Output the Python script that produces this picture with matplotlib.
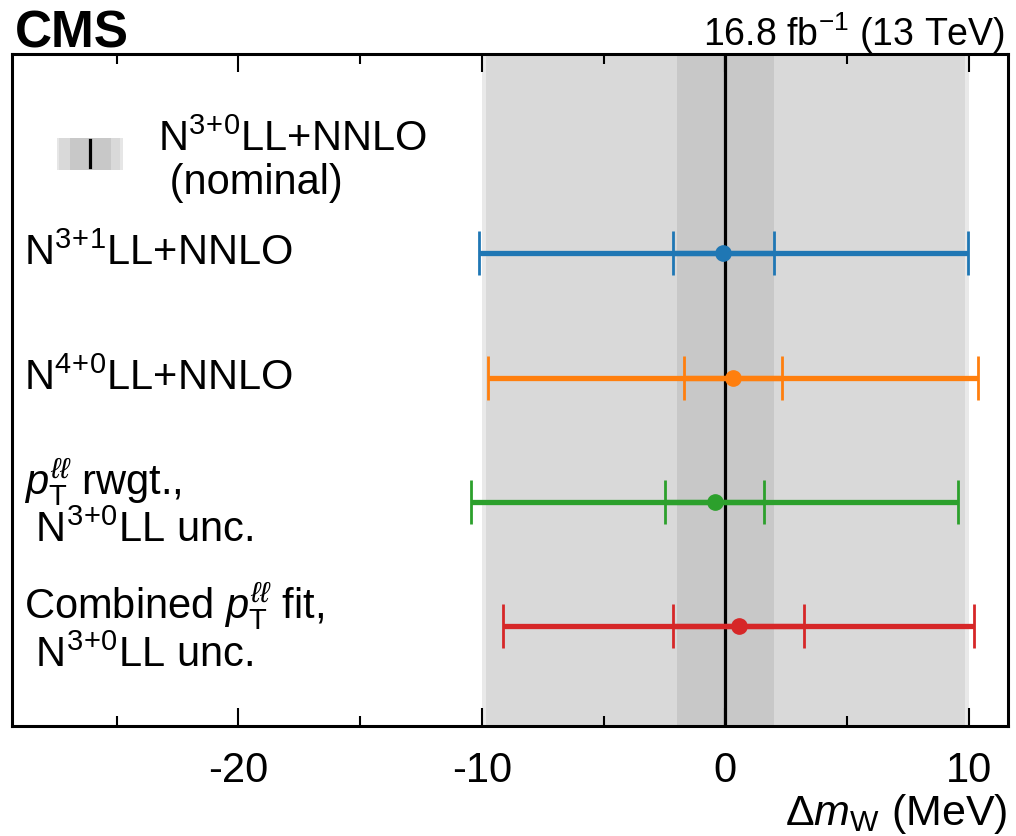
import numpy as np
import matplotlib
matplotlib.use("Agg")
import matplotlib.pyplot as plt
from matplotlib.patches import Rectangle

plt.rcParams['font.family'] = ['Liberation Sans', 'DejaVu Sans']
plt.rcParams['mathtext.fontset'] = 'custom'
plt.rcParams['mathtext.rm'] = 'Liberation Sans'
plt.rcParams['mathtext.it'] = 'Liberation Sans:italic'
plt.rcParams['mathtext.bf'] = 'Liberation Sans:bold'

# shifts of m_W with respect to the nominal N3+0LL+NNLO fit (MeV)
labels = [
    "N$^{3\\!+\\!1}$LL+NNLO",
    "N$^{4\\!+\\!0}$LL+NNLO",
    "$p_{\\mathrm{T}}^{\\ell\\ell}$ rwgt.,\n N$^{3\\!+\\!0}$LL unc.",
    "Combined $p_{\\mathrm{T}}^{\\ell\\ell}$ fit,\n N$^{3\\!+\\!0}$LL unc.",
]
shift = [-0.08, 0.31, -0.44, 0.54]
err_inner = [2.07, 2.00, 2.03, 2.70]
err_outer = [10.04, 10.05, 9.99, 9.66]
colors = ["#1f77b4", "#ff7f0e", "#2ca02c", "#d62728"]

nominal_inner = 2.0
nominal_outer = 10.0

fig = plt.figure(figsize=(10.16, 8.37), dpi=100)
ax = fig.add_axes([0.0118, 0.1314, 0.9802, 0.8026])

ypos = [4, 3, 2, 1]

# nominal uncertainty bands
ax.axvspan(-nominal_outer, nominal_outer, color="#e9e9e9", lw=0, zorder=0)
ax.axvspan(-nominal_outer + 0.15, nominal_outer - 0.15, color="#d9d9d9", lw=0, zorder=0)
ax.axvspan(-nominal_inner, nominal_inner, color="#c8c8c8", lw=0, zorder=0)
ax.axvline(0, color="black", lw=2.3, zorder=1)

for y, c, s, ei, eo in zip(ypos, colors, shift, err_inner, err_outer):
    ax.errorbar(s, y, xerr=eo, fmt="none", ecolor=c, elinewidth=3.8,
                capsize=16, capthick=2.0, zorder=3)
    ax.errorbar(s, y, xerr=ei, fmt="o", color=c, ecolor=c, elinewidth=3.8,
                capsize=16, capthick=2.0, markersize=11, zorder=4)

for y, lab in zip(ypos, labels):
    ax.text(-28.8, y, lab, fontsize=30, ha="left", va="center", linespacing=1.1)

# legend swatch for the nominal band
sw_x0, sw_x1, sw_y0, sw_y1 = -27.45, -24.75, 4.67, 4.93
ax.add_patch(Rectangle((sw_x0, sw_y0), sw_x1 - sw_x0, sw_y1 - sw_y0,
                       facecolor="#e6e6e6", lw=0, zorder=2))
ax.add_patch(Rectangle((sw_x0 + 0.1, sw_y0), sw_x1 - sw_x0 - 0.2, sw_y1 - sw_y0,
                       facecolor="#d9d9d9", lw=0, zorder=2))
ax.add_patch(Rectangle((-26.9, sw_y0), 1.65, sw_y1 - sw_y0,
                       facecolor="#c8c8c8", lw=0, zorder=2))
ax.plot([-26.1, -26.1], [sw_y0 + 0.02, sw_y1 - 0.02], color="black", lw=2.3, zorder=3)
ax.text(-23.3, 4.75, "N$^{3\\!+\\!0}$LL+NNLO\n (nominal)", fontsize=30,
        ha="left", va="center", linespacing=1.1)

ax.set_xlim(-29.3, 11.6)
ax.set_ylim(0.2, 5.6)
ax.set_yticks([])
ax.set_xticks([-20, -10, 0, 10])
ax.set_xticklabels(["-20", "-10", "0", "10"])
ax.set_xticks([-25, -15, -5, 5], minor=True)
ax.tick_params(axis="x", which="both", direction="in", top=True, labelsize=30,
               width=1.5, pad=17)
ax.tick_params(axis="x", which="major", length=13)
ax.tick_params(axis="x", which="minor", length=7)
for sp in ax.spines.values():
    sp.set_linewidth(2.2)

ax.set_xlabel("$\\Delta\\mathit{m}_{\\mathrm{W}}$ (MeV)", fontsize=31, loc="right", labelpad=1)

ax.text(0.003, 1.012, "CMS", transform=ax.transAxes, fontsize=37, fontweight="bold",
        ha="left", va="baseline")
ax.text(0.997, 1.014, "16.8 fb$^{-1}$ (13 TeV)", transform=ax.transAxes, fontsize=27,
        ha="right", va="baseline")

fig.savefig("out.png", dpi=100)
